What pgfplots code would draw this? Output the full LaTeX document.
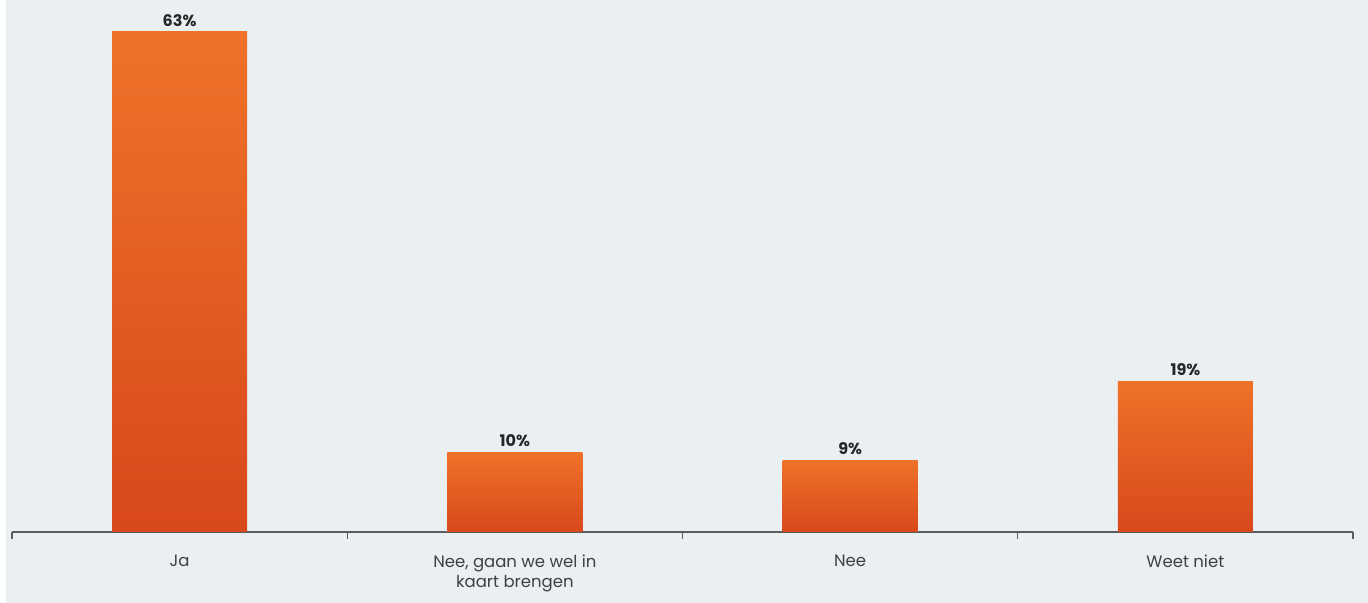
\documentclass[border=0pt]{standalone}
\usepackage{pgfplots}
\pgfplotsset{compat=1.18}
\usepackage{fontspec}
\setmainfont{Poppins}
\definecolor{bgc}{HTML}{EAEFF2}
\definecolor{bartop}{HTML}{EF7228}
\definecolor{barmid}{HTML}{EC6C27}
\definecolor{barbot}{HTML}{D8481C}
\definecolor{axc}{HTML}{5A5A5F}
\definecolor{lblc}{HTML}{404040}
\begin{document}
\begin{tikzpicture}[x=1bp,y=1bp]
\fill[bgc] (0,0) rectangle (1368,603);
\fill[white!98!bgc] (0,0) rectangle (6,603);
\path[use as bounding box] (0,0) rectangle (1368,603);
\begin{axis}[
  at={(12bp,71bp)}, anchor=south west,
  scale only axis, width=1341bp, height=532bp,
  xmin=-0.5, xmax=3.5, ymin=0, ymax=67,
  clip=false,
  axis x line=bottom, axis y line=none,
  axis line style={-, axc, line width=1.2pt},
  xtick={0,1,2,3},
  xticklabels={Ja, {Nee, gaan we wel in\\kaart brengen}, Nee, Weet niet},
  major tick length=0pt,
  minor xtick={-0.5,0.5,1.5,2.5,3.5},
  minor tick length=7bp,
  tick align=outside,
  minor tick style={axc, line width=1.2pt},
  xticklabel style={align=center, font=\fontsize{16.5bp}{20bp}\selectfont, text=lblc, yshift=-19bp, anchor=north},
  ytick=\empty,
  /pgf/number format/assume math mode=true,
  ybar, bar width=135bp, bar shift=0pt,
  nodes near coords={\pgfmathprintnumber[assume math mode=true]{\pgfplotspointmeta}\%},
  nodes near coords style={font=\bfseries\fontsize{16bp}{18bp}\selectfont, text=black!85, yshift=2bp},
  every axis plot/.append style={draw=none, top color=bartop, middle color=barmid, bottom color=barbot},
]
\addplot coordinates {(0,63)};
\addplot coordinates {(1,10)};
\addplot coordinates {(2,9)};
\addplot coordinates {(3,19)};
\end{axis}
\end{tikzpicture}
\end{document}
